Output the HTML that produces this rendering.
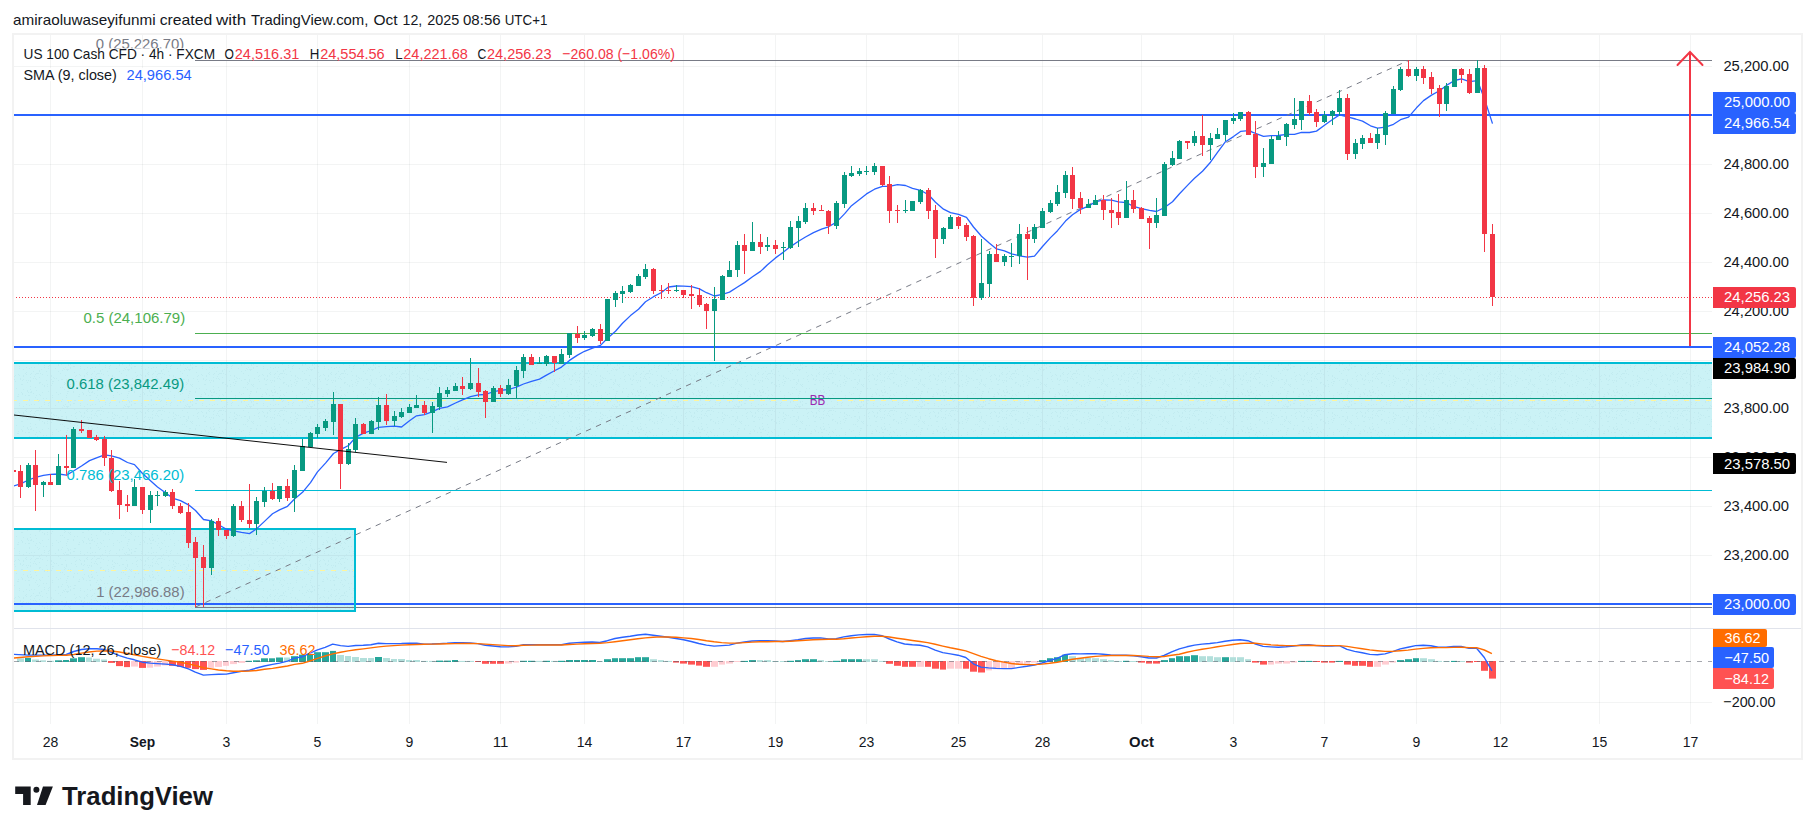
<!DOCTYPE html>
<html><head><meta charset="utf-8"><title>chart</title><style>html,body{margin:0;padding:0;background:#fff;}body{width:1815px;height:834px;overflow:hidden;font-family:"Liberation Sans",sans-serif;}</style></head><body>
<svg width="1815" height="834" viewBox="0 0 1815 834" style="display:block">
<rect width="1815" height="834" fill="#fff"/>
<defs><clipPath id="main"><rect x="14" y="35" width="1698" height="593"/></clipPath><clipPath id="macd"><rect x="14" y="629" width="1698" height="94"/></clipPath><pattern id="dots" width="61" height="37" patternUnits="userSpaceOnUse"><g fill="#c2ebf0"><rect x="20" y="9" width="1" height="1"/><rect x="25" y="3" width="1" height="1"/><rect x="4" y="34" width="1" height="1"/><rect x="6" y="23" width="1" height="1"/><rect x="37" y="3" width="1" height="1"/><rect x="58" y="32" width="1" height="1"/><rect x="13" y="2" width="1" height="1"/><rect x="5" y="27" width="1" height="1"/><rect x="26" y="4" width="1" height="1"/><rect x="15" y="5" width="1" height="1"/><rect x="35" y="27" width="1" height="1"/><rect x="3" y="36" width="1" height="1"/><rect x="7" y="14" width="1" height="1"/><rect x="40" y="3" width="1" height="1"/><rect x="36" y="25" width="1" height="1"/><rect x="3" y="14" width="1" height="1"/><rect x="2" y="35" width="1" height="1"/><rect x="54" y="8" width="1" height="1"/><rect x="18" y="26" width="1" height="1"/><rect x="9" y="34" width="1" height="1"/><rect x="7" y="36" width="1" height="1"/><rect x="19" y="35" width="1" height="1"/><rect x="52" y="11" width="1" height="1"/><rect x="6" y="36" width="1" height="1"/><rect x="40" y="12" width="1" height="1"/><rect x="23" y="6" width="1" height="1"/><rect x="35" y="4" width="1" height="1"/><rect x="36" y="3" width="1" height="1"/><rect x="39" y="13" width="1" height="1"/><rect x="31" y="34" width="1" height="1"/><rect x="27" y="20" width="1" height="1"/><rect x="29" y="29" width="1" height="1"/><rect x="23" y="19" width="1" height="1"/><rect x="15" y="11" width="1" height="1"/><rect x="44" y="15" width="1" height="1"/><rect x="5" y="36" width="1" height="1"/><rect x="19" y="33" width="1" height="1"/><rect x="31" y="21" width="1" height="1"/><rect x="46" y="28" width="1" height="1"/><rect x="18" y="4" width="1" height="1"/><rect x="7" y="32" width="1" height="1"/><rect x="26" y="10" width="1" height="1"/><rect x="48" y="21" width="1" height="1"/><rect x="9" y="31" width="1" height="1"/><rect x="26" y="2" width="1" height="1"/><rect x="42" y="4" width="1" height="1"/><rect x="48" y="35" width="1" height="1"/><rect x="36" y="20" width="1" height="1"/><rect x="21" y="22" width="1" height="1"/><rect x="38" y="31" width="1" height="1"/><rect x="37" y="29" width="1" height="1"/><rect x="4" y="5" width="1" height="1"/><rect x="60" y="17" width="1" height="1"/><rect x="30" y="4" width="1" height="1"/><rect x="3" y="19" width="1" height="1"/><rect x="41" y="36" width="1" height="1"/><rect x="43" y="28" width="1" height="1"/><rect x="18" y="24" width="1" height="1"/><rect x="56" y="22" width="1" height="1"/><rect x="1" y="29" width="1" height="1"/><rect x="22" y="10" width="1" height="1"/><rect x="39" y="7" width="1" height="1"/><rect x="31" y="3" width="1" height="1"/><rect x="13" y="18" width="1" height="1"/><rect x="8" y="15" width="1" height="1"/><rect x="25" y="25" width="1" height="1"/><rect x="58" y="31" width="1" height="1"/><rect x="5" y="10" width="1" height="1"/><rect x="28" y="25" width="1" height="1"/><rect x="35" y="17" width="1" height="1"/><rect x="56" y="8" width="1" height="1"/><rect x="52" y="27" width="1" height="1"/><rect x="55" y="35" width="1" height="1"/><rect x="17" y="26" width="1" height="1"/><rect x="22" y="24" width="1" height="1"/><rect x="14" y="9" width="1" height="1"/><rect x="5" y="11" width="1" height="1"/><rect x="9" y="14" width="1" height="1"/><rect x="42" y="14" width="1" height="1"/><rect x="0" y="31" width="1" height="1"/><rect x="53" y="11" width="1" height="1"/><rect x="16" y="18" width="1" height="1"/><rect x="0" y="9" width="1" height="1"/><rect x="26" y="34" width="1" height="1"/><rect x="23" y="36" width="1" height="1"/><rect x="20" y="8" width="1" height="1"/><rect x="44" y="32" width="1" height="1"/><rect x="60" y="3" width="1" height="1"/><rect x="29" y="35" width="1" height="1"/><rect x="25" y="25" width="1" height="1"/><rect x="25" y="25" width="1" height="1"/><rect x="6" y="30" width="1" height="1"/><rect x="40" y="25" width="1" height="1"/><rect x="3" y="12" width="1" height="1"/><rect x="4" y="13" width="1" height="1"/><rect x="28" y="10" width="1" height="1"/><rect x="7" y="21" width="1" height="1"/><rect x="38" y="3" width="1" height="1"/><rect x="6" y="0" width="1" height="1"/><rect x="36" y="9" width="1" height="1"/><rect x="34" y="6" width="1" height="1"/><rect x="60" y="23" width="1" height="1"/><rect x="39" y="1" width="1" height="1"/><rect x="4" y="13" width="1" height="1"/><rect x="39" y="24" width="1" height="1"/><rect x="9" y="16" width="1" height="1"/><rect x="22" y="23" width="1" height="1"/><rect x="30" y="7" width="1" height="1"/><rect x="7" y="31" width="1" height="1"/><rect x="29" y="30" width="1" height="1"/><rect x="30" y="19" width="1" height="1"/><rect x="5" y="9" width="1" height="1"/><rect x="6" y="21" width="1" height="1"/><rect x="47" y="16" width="1" height="1"/><rect x="30" y="10" width="1" height="1"/><rect x="33" y="1" width="1" height="1"/><rect x="13" y="33" width="1" height="1"/><rect x="23" y="9" width="1" height="1"/><rect x="44" y="34" width="1" height="1"/><rect x="58" y="1" width="1" height="1"/><rect x="48" y="33" width="1" height="1"/><rect x="19" y="5" width="1" height="1"/><rect x="44" y="16" width="1" height="1"/><rect x="33" y="23" width="1" height="1"/><rect x="58" y="10" width="1" height="1"/><rect x="22" y="14" width="1" height="1"/><rect x="34" y="34" width="1" height="1"/><rect x="49" y="32" width="1" height="1"/><rect x="21" y="14" width="1" height="1"/><rect x="39" y="12" width="1" height="1"/><rect x="51" y="15" width="1" height="1"/><rect x="52" y="25" width="1" height="1"/><rect x="47" y="14" width="1" height="1"/><rect x="12" y="33" width="1" height="1"/><rect x="31" y="22" width="1" height="1"/><rect x="46" y="1" width="1" height="1"/><rect x="1" y="17" width="1" height="1"/><rect x="30" y="16" width="1" height="1"/><rect x="12" y="22" width="1" height="1"/><rect x="28" y="22" width="1" height="1"/><rect x="23" y="5" width="1" height="1"/><rect x="14" y="6" width="1" height="1"/><rect x="14" y="30" width="1" height="1"/><rect x="12" y="21" width="1" height="1"/><rect x="13" y="30" width="1" height="1"/><rect x="39" y="0" width="1" height="1"/><rect x="30" y="22" width="1" height="1"/><rect x="51" y="5" width="1" height="1"/><rect x="53" y="7" width="1" height="1"/><rect x="58" y="24" width="1" height="1"/><rect x="50" y="12" width="1" height="1"/><rect x="30" y="11" width="1" height="1"/><rect x="27" y="21" width="1" height="1"/><rect x="5" y="25" width="1" height="1"/><rect x="29" y="25" width="1" height="1"/><rect x="47" y="5" width="1" height="1"/><rect x="46" y="10" width="1" height="1"/><rect x="10" y="8" width="1" height="1"/><rect x="1" y="9" width="1" height="1"/><rect x="37" y="29" width="1" height="1"/><rect x="51" y="9" width="1" height="1"/><rect x="39" y="30" width="1" height="1"/><rect x="42" y="22" width="1" height="1"/><rect x="9" y="35" width="1" height="1"/><rect x="35" y="8" width="1" height="1"/><rect x="1" y="0" width="1" height="1"/><rect x="51" y="6" width="1" height="1"/><rect x="33" y="8" width="1" height="1"/><rect x="27" y="12" width="1" height="1"/><rect x="52" y="13" width="1" height="1"/></g></pattern><clipPath id="fib0"><rect x="0" y="0" width="400" height="48.6"/></clipPath></defs>
<g fill="#1a2a20" fill-opacity="0.05" shape-rendering="crispEdges"><rect x="50" y="35" width="1" height="689"/><rect x="142" y="35" width="1" height="689"/><rect x="226" y="35" width="1" height="689"/><rect x="317" y="35" width="1" height="689"/><rect x="409" y="35" width="1" height="689"/><rect x="500" y="35" width="1" height="689"/><rect x="584" y="35" width="1" height="689"/><rect x="683" y="35" width="1" height="689"/><rect x="775" y="35" width="1" height="689"/><rect x="866" y="35" width="1" height="689"/><rect x="958" y="35" width="1" height="689"/><rect x="1042" y="35" width="1" height="689"/><rect x="1141" y="35" width="1" height="689"/><rect x="1233" y="35" width="1" height="689"/><rect x="1324" y="35" width="1" height="689"/><rect x="1416" y="35" width="1" height="689"/><rect x="1500" y="35" width="1" height="689"/><rect x="1599" y="35" width="1" height="689"/><rect x="1690" y="35" width="1" height="689"/><rect x="14" y="66" width="1698" height="1"/><rect x="14" y="115" width="1698" height="1"/><rect x="14" y="164" width="1698" height="1"/><rect x="14" y="213" width="1698" height="1"/><rect x="14" y="262" width="1698" height="1"/><rect x="14" y="311" width="1698" height="1"/><rect x="14" y="360" width="1698" height="1"/><rect x="14" y="408" width="1698" height="1"/><rect x="14" y="457" width="1698" height="1"/><rect x="14" y="506" width="1698" height="1"/><rect x="14" y="555" width="1698" height="1"/><rect x="14" y="702" width="1698" height="1"/></g>
<g shape-rendering="crispEdges">
<rect x="14" y="362" width="1698" height="77" fill="#cbf2f6"/>
<rect x="14" y="364" width="1698" height="73" fill="url(#dots)"/>
<rect x="14" y="362" width="1698" height="2" fill="#00bcd4"/>
<rect x="14" y="437" width="1698" height="2" fill="#00bcd4"/>
<rect x="14" y="528" width="342" height="84" fill="#cbf2f6"/>
<rect x="14" y="530" width="340" height="80" fill="url(#dots)"/>
<rect x="14" y="528" width="342" height="2" fill="#00bcd4"/>
<rect x="14" y="610" width="342" height="2" fill="#00bcd4"/>
<rect x="354" y="528" width="2" height="84" fill="#00bcd4"/>
</g>
<g fill="#c2e7ec" shape-rendering="crispEdges"><rect x="50" y="364" width="1" height="73"/><rect x="50" y="530" width="1" height="80"/><rect x="142" y="364" width="1" height="73"/><rect x="142" y="530" width="1" height="80"/><rect x="226" y="364" width="1" height="73"/><rect x="226" y="530" width="1" height="80"/><rect x="317" y="364" width="1" height="73"/><rect x="317" y="530" width="1" height="80"/><rect x="409" y="364" width="1" height="73"/><rect x="500" y="364" width="1" height="73"/><rect x="584" y="364" width="1" height="73"/><rect x="683" y="364" width="1" height="73"/><rect x="775" y="364" width="1" height="73"/><rect x="866" y="364" width="1" height="73"/><rect x="958" y="364" width="1" height="73"/><rect x="1042" y="364" width="1" height="73"/><rect x="1141" y="364" width="1" height="73"/><rect x="1233" y="364" width="1" height="73"/><rect x="1324" y="364" width="1" height="73"/><rect x="1416" y="364" width="1" height="73"/><rect x="1500" y="364" width="1" height="73"/><rect x="1599" y="364" width="1" height="73"/><rect x="1690" y="364" width="1" height="73"/><rect x="14" y="408" width="1698" height="1"/><rect x="14" y="555" width="340" height="1"/></g>
<g stroke="#fff59d" stroke-width="1" stroke-dasharray="5 6" shape-rendering="crispEdges" clip-path="url(#main)"><line x1="12" y1="400.5" x2="1712" y2="400.5"/><line x1="12" y1="570.5" x2="354" y2="570.5"/></g>
<rect x="798" y="400" width="39" height="1" fill="#cbf2f6" shape-rendering="crispEdges"/>
<text x="809.7" y="405" font-size="15.3" fill="#9c27b0" font-family="Liberation Sans, sans-serif" textLength="15.5" lengthAdjust="spacingAndGlyphs">BB</text>
<g shape-rendering="crispEdges">
<rect x="195" y="60" width="1517" height="1" fill="#787b86"/>
<rect x="195" y="333" width="1517" height="1" fill="#4caf50"/>
<rect x="195" y="398" width="1517" height="1" fill="#089981"/>
<rect x="195" y="490" width="1517" height="1" fill="#00bcd4"/>
<rect x="195" y="607" width="1517" height="1" fill="#787b86"/>
<rect x="14" y="114" width="1698" height="2" fill="#2962ff"/>
<rect x="14" y="346" width="1698" height="2" fill="#2962ff"/>
<rect x="14" y="603" width="1698" height="2" fill="#2962ff"/>
<rect x="354" y="528" width="2" height="84" fill="#00bcd4"/>
</g>
<line x1="13" y1="297.5" x2="1712" y2="297.5" stroke="#f23645" stroke-width="1" stroke-dasharray="1 2" shape-rendering="crispEdges" clip-path="url(#main)"/>
<line x1="195.5" y1="607" x2="1408.5" y2="60.5" stroke="#787b86" stroke-width="1" stroke-dasharray="5.49 5.49"/>
<path d="M13.3,486.1 L20.5,483.9 L28.5,480.0 L35.5,477.3 L43.4,475.3 L50.5,474.3 L58.5,474.0 L66.5,475.1 L73.5,471.0 L81.5,466.0 L89.5,460.6 L96.5,457.8 L104.5,454.9 L111.5,455.8 L119.5,458.1 L127.5,462.5 L134.5,464.6 L142.5,473.5 L150.5,480.7 L157.5,487.0 L165.5,492.8 L172.5,498.1 L180.5,500.6 L188.5,504.8 L195.5,510.5 L203.5,519.5 L211.5,520.8 L218.5,524.7 L226.5,529.2 L233.5,530.8 L241.5,532.3 L249.5,533.6 L256.5,528.9 L264.5,521.4 L272.5,513.8 L279.5,509.9 L287.5,506.3 L294.5,499.0 L302.5,492.3 L310.5,482.6 L317.5,471.9 L325.5,463.1 L333.5,453.5 L340.5,449.6 L348.5,445.5 L355.5,437.3 L363.5,433.2 L371.5,430.5 L378.5,427.3 L386.5,426.6 L394.5,426.1 L401.5,427.0 L409.5,420.7 L416.5,415.8 L424.5,414.6 L432.5,411.6 L439.5,408.4 L447.5,406.8 L455.5,403.0 L462.5,399.9 L470.5,396.6 L478.5,394.9 L485.5,394.5 L493.5,391.7 L500.5,390.3 L508.5,389.5 L516.5,387.2 L523.5,384.0 L531.5,381.3 L539.5,379.1 L546.5,375.1 L554.5,370.8 L561.5,367.1 L569.5,360.4 L577.5,355.1 L584.5,351.3 L592.5,348.1 L600.5,345.4 L607.5,338.3 L615.5,331.3 L622.5,323.3 L630.5,315.6 L638.5,309.3 L645.5,301.7 L653.5,296.7 L661.5,292.5 L668.5,287.0 L676.5,286.0 L683.5,286.2 L691.5,286.7 L699.5,288.9 L706.5,292.7 L714.5,296.0 L722.5,294.4 L729.5,292.1 L737.5,287.0 L744.5,282.6 L752.5,276.8 L760.5,271.4 L767.5,264.8 L775.5,257.9 L783.5,252.1 L790.5,246.6 L798.5,241.2 L805.5,237.0 L813.5,232.6 L821.5,229.1 L828.5,226.8 L836.5,222.1 L844.5,213.9 L851.5,205.7 L859.5,199.5 L866.5,193.9 L874.5,189.2 L882.5,186.4 L889.5,186.4 L897.5,184.7 L905.5,185.5 L912.5,188.4 L920.5,190.3 L928.5,194.7 L935.5,202.3 L943.5,209.2 L950.5,212.7 L958.5,214.4 L966.5,217.3 L973.5,227.0 L981.5,236.2 L989.5,243.3 L996.5,248.9 L1004.5,250.8 L1011.5,253.9 L1019.5,255.8 L1027.5,257.2 L1034.5,256.1 L1042.5,246.5 L1050.5,237.6 L1057.5,230.7 L1065.5,221.1 L1072.5,214.7 L1080.5,209.4 L1088.5,206.1 L1095.5,201.8 L1103.5,199.9 L1111.5,200.1 L1118.5,201.8 L1126.5,202.7 L1133.5,206.4 L1141.5,208.6 L1149.5,210.3 L1156.5,211.5 L1164.5,207.5 L1172.5,201.7 L1179.5,193.7 L1187.5,185.4 L1194.5,178.3 L1202.5,171.2 L1210.5,162.2 L1217.5,152.3 L1225.5,141.7 L1233.5,136.6 L1240.5,131.4 L1248.5,130.7 L1255.5,133.4 L1263.5,136.4 L1271.5,135.7 L1278.5,135.5 L1286.5,134.4 L1294.5,134.3 L1301.5,132.4 L1309.5,132.5 L1316.5,131.1 L1324.5,125.3 L1332.5,119.5 L1339.5,114.9 L1347.5,116.9 L1355.5,119.0 L1362.5,121.1 L1370.5,125.8 L1377.5,128.1 L1385.5,127.2 L1393.5,124.3 L1400.5,119.7 L1408.5,117.2 L1416.5,107.8 L1423.5,100.6 L1431.5,95.1 L1439.5,90.8 L1446.5,85.4 L1454.5,80.5 L1461.5,78.9 L1469.5,81.6 L1477.5,80.7 L1484.5,99.0 L1492.5,123.6" fill="none" stroke="#2962ff" stroke-width="1.3" stroke-linejoin="round" clip-path="url(#main)"/>
<g shape-rendering="crispEdges" clip-path="url(#main)"><rect x="14" y="470" width="2" height="2" fill="#f23645"/><g fill="#f23645"><rect x="20" y="465" width="1" height="33"/><rect x="18" y="471" width="5" height="16"/></g><g fill="#089981"><rect x="28" y="463" width="1" height="25"/><rect x="26" y="465" width="5" height="22"/></g><g fill="#f23645"><rect x="35" y="450" width="1" height="61"/><rect x="33" y="465" width="5" height="20"/></g><g fill="#089981"><rect x="43" y="481" width="1" height="16"/><rect x="41" y="482" width="5" height="3"/></g><g fill="#f23645"><rect x="50" y="474" width="1" height="11"/><rect x="48" y="482" width="5" height="3"/></g><g fill="#089981"><rect x="58" y="454" width="1" height="31"/><rect x="56" y="466" width="5" height="19"/></g><g fill="#f23645"><rect x="66" y="435" width="1" height="41"/><rect x="64" y="466" width="5" height="2"/></g><g fill="#089981"><rect x="73" y="427" width="1" height="41"/><rect x="71" y="429" width="5" height="39"/></g><g fill="#f23645"><rect x="81" y="420" width="1" height="13"/><rect x="79" y="429" width="5" height="2"/></g><g fill="#f23645"><rect x="89" y="430" width="1" height="8"/><rect x="87" y="430" width="5" height="8"/></g><g fill="#f23645"><rect x="96" y="435" width="1" height="6"/><rect x="94" y="437" width="5" height="3"/></g><g fill="#f23645"><rect x="104" y="436" width="1" height="30"/><rect x="102" y="439" width="5" height="19"/></g><g fill="#f23645"><rect x="111" y="450" width="1" height="42"/><rect x="109" y="458" width="5" height="33"/></g><g fill="#f23645"><rect x="119" y="481" width="1" height="38"/><rect x="117" y="490" width="5" height="15"/></g><g fill="#f23645"><rect x="127" y="495" width="1" height="17"/><rect x="125" y="504" width="5" height="2"/></g><g fill="#089981"><rect x="134" y="479" width="1" height="27"/><rect x="132" y="487" width="5" height="19"/></g><g fill="#f23645"><rect x="142" y="487" width="1" height="27"/><rect x="140" y="487" width="5" height="23"/></g><g fill="#089981"><rect x="150" y="491" width="1" height="32"/><rect x="148" y="495" width="5" height="15"/></g><g fill="#089981"><rect x="157" y="491" width="1" height="15"/><rect x="155" y="495" width="5" height="1"/></g><g fill="#089981"><rect x="165" y="490" width="1" height="7"/><rect x="163" y="492" width="5" height="4"/></g><g fill="#f23645"><rect x="172" y="489" width="1" height="20"/><rect x="170" y="492" width="5" height="14"/></g><g fill="#f23645"><rect x="180" y="503" width="1" height="11"/><rect x="178" y="506" width="5" height="7"/></g><g fill="#f23645"><rect x="188" y="503" width="1" height="45"/><rect x="186" y="512" width="5" height="31"/></g><g fill="#f23645"><rect x="195" y="537" width="1" height="70"/><rect x="193" y="542" width="5" height="16"/></g><g fill="#f23645"><rect x="203" y="545" width="1" height="62"/><rect x="201" y="557" width="5" height="11"/></g><g fill="#089981"><rect x="211" y="519" width="1" height="56"/><rect x="209" y="521" width="5" height="47"/></g><g fill="#f23645"><rect x="218" y="518" width="1" height="18"/><rect x="216" y="521" width="5" height="9"/></g><g fill="#f23645"><rect x="226" y="530" width="1" height="9"/><rect x="224" y="530" width="5" height="6"/></g><g fill="#089981"><rect x="233" y="504" width="1" height="33"/><rect x="231" y="506" width="5" height="30"/></g><g fill="#f23645"><rect x="241" y="501" width="1" height="21"/><rect x="239" y="506" width="5" height="14"/></g><g fill="#f23645"><rect x="249" y="484" width="1" height="44"/><rect x="247" y="520" width="5" height="4"/></g><g fill="#089981"><rect x="256" y="497" width="1" height="38"/><rect x="254" y="501" width="5" height="23"/></g><g fill="#089981"><rect x="264" y="487" width="1" height="20"/><rect x="262" y="491" width="5" height="11"/></g><g fill="#f23645"><rect x="272" y="483" width="1" height="17"/><rect x="270" y="491" width="5" height="8"/></g><g fill="#089981"><rect x="279" y="486" width="1" height="16"/><rect x="277" y="486" width="5" height="13"/></g><g fill="#f23645"><rect x="287" y="479" width="1" height="22"/><rect x="285" y="486" width="5" height="12"/></g><g fill="#089981"><rect x="294" y="465" width="1" height="47"/><rect x="292" y="470" width="5" height="28"/></g><g fill="#089981"><rect x="302" y="439" width="1" height="32"/><rect x="300" y="446" width="5" height="25"/></g><g fill="#089981"><rect x="310" y="432" width="1" height="15"/><rect x="308" y="433" width="5" height="14"/></g><g fill="#089981"><rect x="317" y="424" width="1" height="14"/><rect x="315" y="427" width="5" height="7"/></g><g fill="#089981"><rect x="325" y="419" width="1" height="12"/><rect x="323" y="421" width="5" height="7"/></g><g fill="#089981"><rect x="333" y="392" width="1" height="43"/><rect x="331" y="404" width="5" height="18"/></g><g fill="#f23645"><rect x="340" y="404" width="1" height="85"/><rect x="338" y="404" width="5" height="60"/></g><g fill="#089981"><rect x="348" y="443" width="1" height="22"/><rect x="346" y="449" width="5" height="15"/></g><g fill="#089981"><rect x="355" y="418" width="1" height="34"/><rect x="353" y="424" width="5" height="26"/></g><g fill="#f23645"><rect x="363" y="423" width="1" height="11"/><rect x="361" y="424" width="5" height="10"/></g><g fill="#089981"><rect x="371" y="420" width="1" height="14"/><rect x="369" y="421" width="5" height="13"/></g><g fill="#089981"><rect x="378" y="397" width="1" height="33"/><rect x="376" y="405" width="5" height="17"/></g><g fill="#f23645"><rect x="386" y="394" width="1" height="31"/><rect x="384" y="405" width="5" height="16"/></g><g fill="#089981"><rect x="394" y="411" width="1" height="15"/><rect x="392" y="416" width="5" height="5"/></g><g fill="#089981"><rect x="401" y="408" width="1" height="10"/><rect x="399" y="412" width="5" height="5"/></g><g fill="#089981"><rect x="409" y="404" width="1" height="9"/><rect x="407" y="407" width="5" height="6"/></g><g fill="#089981"><rect x="416" y="395" width="1" height="13"/><rect x="414" y="405" width="5" height="3"/></g><g fill="#f23645"><rect x="424" y="401" width="1" height="14"/><rect x="422" y="405" width="5" height="8"/></g><g fill="#089981"><rect x="432" y="402" width="1" height="31"/><rect x="430" y="406" width="5" height="7"/></g><g fill="#089981"><rect x="439" y="387" width="1" height="23"/><rect x="437" y="393" width="5" height="14"/></g><g fill="#089981"><rect x="447" y="387" width="1" height="10"/><rect x="445" y="390" width="5" height="4"/></g><g fill="#089981"><rect x="455" y="383" width="1" height="8"/><rect x="453" y="386" width="5" height="5"/></g><g fill="#f23645"><rect x="462" y="377" width="1" height="18"/><rect x="460" y="386" width="5" height="3"/></g><g fill="#089981"><rect x="470" y="358" width="1" height="32"/><rect x="468" y="383" width="5" height="6"/></g><g fill="#f23645"><rect x="478" y="368" width="1" height="29"/><rect x="476" y="383" width="5" height="9"/></g><g fill="#f23645"><rect x="485" y="390" width="1" height="28"/><rect x="483" y="391" width="5" height="11"/></g><g fill="#089981"><rect x="493" y="386" width="1" height="16"/><rect x="491" y="388" width="5" height="14"/></g><g fill="#f23645"><rect x="500" y="385" width="1" height="12"/><rect x="498" y="388" width="5" height="6"/></g><g fill="#089981"><rect x="508" y="379" width="1" height="16"/><rect x="506" y="385" width="5" height="9"/></g><g fill="#089981"><rect x="516" y="366" width="1" height="32"/><rect x="514" y="370" width="5" height="16"/></g><g fill="#089981"><rect x="523" y="354" width="1" height="24"/><rect x="521" y="357" width="5" height="14"/></g><g fill="#f23645"><rect x="531" y="354" width="1" height="11"/><rect x="529" y="357" width="5" height="8"/></g><g fill="#089981"><rect x="539" y="357" width="1" height="7"/><rect x="537" y="363" width="5" height="1"/></g><g fill="#089981"><rect x="546" y="355" width="1" height="11"/><rect x="544" y="356" width="5" height="8"/></g><g fill="#f23645"><rect x="554" y="356" width="1" height="16"/><rect x="552" y="356" width="5" height="7"/></g><g fill="#089981"><rect x="561" y="349" width="1" height="15"/><rect x="559" y="354" width="5" height="10"/></g><g fill="#089981"><rect x="569" y="333" width="1" height="25"/><rect x="567" y="333" width="5" height="22"/></g><g fill="#f23645"><rect x="577" y="326" width="1" height="17"/><rect x="575" y="334" width="5" height="4"/></g><g fill="#089981"><rect x="584" y="331" width="1" height="9"/><rect x="582" y="335" width="5" height="3"/></g><g fill="#089981"><rect x="592" y="328" width="1" height="9"/><rect x="590" y="329" width="5" height="7"/></g><g fill="#f23645"><rect x="600" y="324" width="1" height="20"/><rect x="598" y="329" width="5" height="12"/></g><g fill="#089981"><rect x="607" y="299" width="1" height="42"/><rect x="605" y="299" width="5" height="42"/></g><g fill="#089981"><rect x="615" y="291" width="1" height="16"/><rect x="613" y="293" width="5" height="7"/></g><g fill="#089981"><rect x="622" y="286" width="1" height="17"/><rect x="620" y="291" width="5" height="3"/></g><g fill="#089981"><rect x="630" y="284" width="1" height="9"/><rect x="628" y="285" width="5" height="7"/></g><g fill="#089981"><rect x="638" y="274" width="1" height="12"/><rect x="636" y="276" width="5" height="10"/></g><g fill="#089981"><rect x="645" y="264" width="1" height="15"/><rect x="643" y="269" width="5" height="8"/></g><g fill="#f23645"><rect x="653" y="268" width="1" height="26"/><rect x="651" y="269" width="5" height="22"/></g><g fill="#f23645"><rect x="661" y="285" width="1" height="14"/><rect x="659" y="290" width="5" height="1"/></g><g fill="#f23645"><rect x="668" y="283" width="1" height="11"/><rect x="666" y="290" width="5" height="1"/></g><g fill="#089981"><rect x="676" y="285" width="1" height="7"/><rect x="674" y="290" width="5" height="1"/></g><g fill="#f23645"><rect x="683" y="290" width="1" height="8"/><rect x="681" y="290" width="5" height="5"/></g><g fill="#f23645"><rect x="691" y="285" width="1" height="24"/><rect x="689" y="294" width="5" height="2"/></g><g fill="#f23645"><rect x="699" y="288" width="1" height="19"/><rect x="697" y="295" width="5" height="10"/></g><g fill="#f23645"><rect x="706" y="303" width="1" height="26"/><rect x="704" y="304" width="5" height="7"/></g><g fill="#089981"><rect x="714" y="287" width="1" height="74"/><rect x="712" y="299" width="5" height="12"/></g><g fill="#089981"><rect x="722" y="275" width="1" height="25"/><rect x="720" y="276" width="5" height="24"/></g><g fill="#089981"><rect x="729" y="261" width="1" height="16"/><rect x="727" y="270" width="5" height="7"/></g><g fill="#089981"><rect x="737" y="241" width="1" height="36"/><rect x="735" y="245" width="5" height="25"/></g><g fill="#f23645"><rect x="744" y="234" width="1" height="40"/><rect x="742" y="245" width="5" height="6"/></g><g fill="#089981"><rect x="752" y="222" width="1" height="29"/><rect x="750" y="242" width="5" height="9"/></g><g fill="#f23645"><rect x="760" y="234" width="1" height="20"/><rect x="758" y="242" width="5" height="5"/></g><g fill="#089981"><rect x="767" y="237" width="1" height="14"/><rect x="765" y="245" width="5" height="2"/></g><g fill="#f23645"><rect x="775" y="240" width="1" height="14"/><rect x="773" y="245" width="5" height="4"/></g><g fill="#089981"><rect x="783" y="242" width="1" height="18"/><rect x="781" y="247" width="5" height="1"/></g><g fill="#089981"><rect x="790" y="221" width="1" height="28"/><rect x="788" y="227" width="5" height="21"/></g><g fill="#089981"><rect x="798" y="216" width="1" height="31"/><rect x="796" y="221" width="5" height="7"/></g><g fill="#089981"><rect x="805" y="203" width="1" height="21"/><rect x="803" y="208" width="5" height="14"/></g><g fill="#f23645"><rect x="813" y="203" width="1" height="12"/><rect x="811" y="208" width="5" height="3"/></g><g fill="#f23645"><rect x="821" y="205" width="1" height="6"/><rect x="819" y="210" width="5" height="1"/></g><g fill="#f23645"><rect x="828" y="210" width="1" height="24"/><rect x="826" y="211" width="5" height="15"/></g><g fill="#089981"><rect x="836" y="201" width="1" height="28"/><rect x="834" y="203" width="5" height="23"/></g><g fill="#089981"><rect x="844" y="172" width="1" height="36"/><rect x="842" y="175" width="5" height="29"/></g><g fill="#089981"><rect x="851" y="166" width="1" height="11"/><rect x="849" y="173" width="5" height="3"/></g><g fill="#089981"><rect x="859" y="168" width="1" height="8"/><rect x="857" y="171" width="5" height="3"/></g><g fill="#089981"><rect x="866" y="166" width="1" height="9"/><rect x="864" y="171" width="5" height="1"/></g><g fill="#089981"><rect x="874" y="163" width="1" height="12"/><rect x="872" y="166" width="5" height="6"/></g><g fill="#f23645"><rect x="882" y="166" width="1" height="20"/><rect x="880" y="166" width="5" height="19"/></g><g fill="#f23645"><rect x="889" y="176" width="1" height="47"/><rect x="887" y="184" width="5" height="27"/></g><g fill="#f23645"><rect x="897" y="205" width="1" height="18"/><rect x="895" y="210" width="5" height="1"/></g><g fill="#089981"><rect x="905" y="200" width="1" height="13"/><rect x="903" y="210" width="5" height="1"/></g><g fill="#089981"><rect x="912" y="201" width="1" height="10"/><rect x="910" y="201" width="5" height="10"/></g><g fill="#089981"><rect x="920" y="189" width="1" height="15"/><rect x="918" y="190" width="5" height="12"/></g><g fill="#f23645"><rect x="928" y="188" width="1" height="31"/><rect x="926" y="190" width="5" height="21"/></g><g fill="#f23645"><rect x="935" y="205" width="1" height="53"/><rect x="933" y="210" width="5" height="29"/></g><g fill="#089981"><rect x="943" y="227" width="1" height="17"/><rect x="941" y="228" width="5" height="11"/></g><g fill="#089981"><rect x="950" y="215" width="1" height="14"/><rect x="948" y="217" width="5" height="12"/></g><g fill="#f23645"><rect x="958" y="216" width="1" height="13"/><rect x="956" y="217" width="5" height="9"/></g><g fill="#f23645"><rect x="966" y="223" width="1" height="18"/><rect x="964" y="225" width="5" height="12"/></g><g fill="#f23645"><rect x="973" y="235" width="1" height="71"/><rect x="971" y="236" width="5" height="62"/></g><g fill="#089981"><rect x="981" y="239" width="1" height="61"/><rect x="979" y="283" width="5" height="15"/></g><g fill="#089981"><rect x="989" y="251" width="1" height="46"/><rect x="987" y="254" width="5" height="30"/></g><g fill="#f23645"><rect x="996" y="244" width="1" height="18"/><rect x="994" y="254" width="5" height="8"/></g><g fill="#089981"><rect x="1004" y="254" width="1" height="12"/><rect x="1002" y="256" width="5" height="6"/></g><g fill="#089981"><rect x="1011" y="243" width="1" height="24"/><rect x="1009" y="256" width="5" height="1"/></g><g fill="#089981"><rect x="1019" y="224" width="1" height="40"/><rect x="1017" y="234" width="5" height="22"/></g><g fill="#f23645"><rect x="1027" y="227" width="1" height="53"/><rect x="1025" y="234" width="5" height="5"/></g><g fill="#089981"><rect x="1034" y="224" width="1" height="19"/><rect x="1032" y="227" width="5" height="12"/></g><g fill="#089981"><rect x="1042" y="208" width="1" height="20"/><rect x="1040" y="211" width="5" height="17"/></g><g fill="#089981"><rect x="1050" y="200" width="1" height="13"/><rect x="1048" y="203" width="5" height="9"/></g><g fill="#089981"><rect x="1057" y="185" width="1" height="21"/><rect x="1055" y="192" width="5" height="12"/></g><g fill="#089981"><rect x="1065" y="171" width="1" height="27"/><rect x="1063" y="175" width="5" height="18"/></g><g fill="#f23645"><rect x="1072" y="167" width="1" height="42"/><rect x="1070" y="175" width="5" height="24"/></g><g fill="#f23645"><rect x="1080" y="192" width="1" height="22"/><rect x="1078" y="198" width="5" height="10"/></g><g fill="#089981"><rect x="1088" y="199" width="1" height="9"/><rect x="1086" y="204" width="5" height="4"/></g><g fill="#089981"><rect x="1095" y="195" width="1" height="10"/><rect x="1093" y="200" width="5" height="5"/></g><g fill="#f23645"><rect x="1103" y="195" width="1" height="25"/><rect x="1101" y="200" width="5" height="10"/></g><g fill="#f23645"><rect x="1111" y="198" width="1" height="30"/><rect x="1109" y="210" width="5" height="3"/></g><g fill="#f23645"><rect x="1118" y="194" width="1" height="31"/><rect x="1116" y="212" width="5" height="6"/></g><g fill="#089981"><rect x="1126" y="181" width="1" height="37"/><rect x="1124" y="200" width="5" height="18"/></g><g fill="#f23645"><rect x="1133" y="190" width="1" height="23"/><rect x="1131" y="200" width="5" height="9"/></g><g fill="#f23645"><rect x="1141" y="207" width="1" height="12"/><rect x="1139" y="208" width="5" height="11"/></g><g fill="#f23645"><rect x="1149" y="216" width="1" height="33"/><rect x="1147" y="218" width="5" height="5"/></g><g fill="#089981"><rect x="1156" y="198" width="1" height="30"/><rect x="1154" y="215" width="5" height="8"/></g><g fill="#089981"><rect x="1164" y="162" width="1" height="54"/><rect x="1162" y="164" width="5" height="52"/></g><g fill="#089981"><rect x="1172" y="151" width="1" height="15"/><rect x="1170" y="158" width="5" height="7"/></g><g fill="#089981"><rect x="1179" y="140" width="1" height="19"/><rect x="1177" y="141" width="5" height="18"/></g><g fill="#f23645"><rect x="1187" y="141" width="1" height="8"/><rect x="1185" y="141" width="5" height="2"/></g><g fill="#089981"><rect x="1194" y="131" width="1" height="15"/><rect x="1192" y="136" width="5" height="7"/></g><g fill="#f23645"><rect x="1202" y="115" width="1" height="41"/><rect x="1200" y="136" width="5" height="9"/></g><g fill="#089981"><rect x="1210" y="133" width="1" height="27"/><rect x="1208" y="138" width="5" height="7"/></g><g fill="#089981"><rect x="1217" y="128" width="1" height="11"/><rect x="1215" y="134" width="5" height="5"/></g><g fill="#089981"><rect x="1225" y="120" width="1" height="21"/><rect x="1223" y="120" width="5" height="15"/></g><g fill="#089981"><rect x="1233" y="113" width="1" height="11"/><rect x="1231" y="118" width="5" height="3"/></g><g fill="#089981"><rect x="1240" y="112" width="1" height="9"/><rect x="1238" y="112" width="5" height="7"/></g><g fill="#f23645"><rect x="1248" y="111" width="1" height="24"/><rect x="1246" y="112" width="5" height="23"/></g><g fill="#f23645"><rect x="1255" y="121" width="1" height="57"/><rect x="1253" y="134" width="5" height="33"/></g><g fill="#089981"><rect x="1263" y="148" width="1" height="29"/><rect x="1261" y="163" width="5" height="4"/></g><g fill="#089981"><rect x="1271" y="136" width="1" height="28"/><rect x="1269" y="139" width="5" height="25"/></g><g fill="#089981"><rect x="1278" y="131" width="1" height="9"/><rect x="1276" y="136" width="5" height="4"/></g><g fill="#089981"><rect x="1286" y="123" width="1" height="23"/><rect x="1284" y="124" width="5" height="13"/></g><g fill="#089981"><rect x="1294" y="98" width="1" height="31"/><rect x="1292" y="119" width="5" height="6"/></g><g fill="#089981"><rect x="1301" y="101" width="1" height="29"/><rect x="1299" y="101" width="5" height="19"/></g><g fill="#f23645"><rect x="1309" y="95" width="1" height="20"/><rect x="1307" y="101" width="5" height="12"/></g><g fill="#f23645"><rect x="1316" y="109" width="1" height="18"/><rect x="1314" y="112" width="5" height="10"/></g><g fill="#089981"><rect x="1324" y="111" width="1" height="12"/><rect x="1322" y="115" width="5" height="7"/></g><g fill="#089981"><rect x="1332" y="110" width="1" height="15"/><rect x="1330" y="111" width="5" height="5"/></g><g fill="#089981"><rect x="1339" y="90" width="1" height="26"/><rect x="1337" y="98" width="5" height="14"/></g><g fill="#f23645"><rect x="1347" y="94" width="1" height="66"/><rect x="1345" y="98" width="5" height="56"/></g><g fill="#089981"><rect x="1355" y="139" width="1" height="20"/><rect x="1353" y="143" width="5" height="11"/></g><g fill="#089981"><rect x="1362" y="135" width="1" height="14"/><rect x="1360" y="138" width="5" height="6"/></g><g fill="#f23645"><rect x="1370" y="133" width="1" height="10"/><rect x="1368" y="138" width="5" height="5"/></g><g fill="#089981"><rect x="1377" y="128" width="1" height="21"/><rect x="1375" y="134" width="5" height="9"/></g><g fill="#089981"><rect x="1385" y="111" width="1" height="34"/><rect x="1383" y="113" width="5" height="22"/></g><g fill="#089981"><rect x="1393" y="86" width="1" height="28"/><rect x="1391" y="89" width="5" height="25"/></g><g fill="#089981"><rect x="1400" y="67" width="1" height="24"/><rect x="1398" y="69" width="5" height="21"/></g><g fill="#f23645"><rect x="1408" y="60" width="1" height="17"/><rect x="1406" y="69" width="5" height="7"/></g><g fill="#089981"><rect x="1416" y="67" width="1" height="14"/><rect x="1414" y="69" width="5" height="7"/></g><g fill="#f23645"><rect x="1423" y="66" width="1" height="18"/><rect x="1421" y="69" width="5" height="9"/></g><g fill="#f23645"><rect x="1431" y="72" width="1" height="22"/><rect x="1429" y="77" width="5" height="12"/></g><g fill="#f23645"><rect x="1439" y="85" width="1" height="32"/><rect x="1437" y="88" width="5" height="16"/></g><g fill="#089981"><rect x="1446" y="83" width="1" height="28"/><rect x="1444" y="86" width="5" height="18"/></g><g fill="#089981"><rect x="1454" y="69" width="1" height="18"/><rect x="1452" y="69" width="5" height="18"/></g><g fill="#f23645"><rect x="1461" y="68" width="1" height="15"/><rect x="1459" y="69" width="5" height="6"/></g><g fill="#f23645"><rect x="1469" y="69" width="1" height="25"/><rect x="1467" y="74" width="5" height="19"/></g><g fill="#089981"><rect x="1477" y="60" width="1" height="33"/><rect x="1475" y="68" width="5" height="25"/></g><g fill="#f23645"><rect x="1484" y="65" width="1" height="187"/><rect x="1482" y="68" width="5" height="166"/></g><g fill="#f23645"><rect x="1492" y="224" width="1" height="82"/><rect x="1490" y="234" width="5" height="63"/></g></g>
<line x1="14" y1="415" x2="447" y2="462.4" stroke="#000" stroke-width="0.95"/>
<g stroke="#f23645" fill="none" stroke-width="2" stroke-linecap="round"><line x1="1690" y1="52.5" x2="1690" y2="346" stroke-linecap="butt"/><polyline points="1677.5,65 1690,52 1702.5,65" stroke-linejoin="miter"/></g>
<rect x="14" y="628" width="1787" height="1" fill="#e0e3eb" shape-rendering="crispEdges"/>
<g clip-path="url(#macd)"><rect x="17" y="658.3" width="7" height="3.7" fill="#b2dfdb"/><rect x="25" y="658.0" width="6" height="4.0" fill="#26a69a"/><rect x="32" y="659.5" width="7" height="2.5" fill="#b2dfdb"/><rect x="40" y="660.3" width="6" height="1.7" fill="#b2dfdb"/><rect x="47" y="660.8" width="7" height="1.2" fill="#b2dfdb"/><rect x="55" y="660.3" width="7" height="1.7" fill="#26a69a"/><rect x="63" y="660.0" width="6" height="2.0" fill="#26a69a"/><rect x="70" y="658.3" width="7" height="3.7" fill="#26a69a"/><rect x="78" y="657.2" width="7" height="4.8" fill="#26a69a"/><rect x="86" y="657.5" width="6" height="4.5" fill="#b2dfdb"/><rect x="93" y="658.7" width="7" height="3.3" fill="#b2dfdb"/><rect x="101" y="659.5" width="6" height="2.5" fill="#b2dfdb"/><rect x="108" y="661.0" width="7" height="1.9" fill="#ff5252"/><rect x="116" y="661.0" width="7" height="5.1" fill="#ff5252"/><rect x="124" y="661.0" width="6" height="6.1" fill="#ff5252"/><rect x="131" y="661.0" width="7" height="5.6" fill="#ffcdd2"/><rect x="139" y="661.0" width="7" height="6.9" fill="#ff5252"/><rect x="147" y="661.0" width="6" height="6.7" fill="#ffcdd2"/><rect x="154" y="661.0" width="7" height="5.6" fill="#ffcdd2"/><rect x="162" y="661.0" width="6" height="4.4" fill="#ffcdd2"/><rect x="169" y="661.0" width="7" height="4.8" fill="#ff5252"/><rect x="177" y="661.0" width="7" height="5.9" fill="#ff5252"/><rect x="185" y="661.0" width="6" height="6.9" fill="#ff5252"/><rect x="192" y="661.0" width="7" height="8.1" fill="#ff5252"/><rect x="200" y="661.0" width="7" height="8.9" fill="#ff5252"/><rect x="208" y="661.0" width="6" height="6.9" fill="#ffcdd2"/><rect x="215" y="661.0" width="7" height="5.9" fill="#ffcdd2"/><rect x="223" y="661.0" width="6" height="4.8" fill="#ffcdd2"/><rect x="230" y="661.0" width="7" height="3.1" fill="#ffcdd2"/><rect x="238" y="661.0" width="7" height="1.9" fill="#ffcdd2"/><rect x="246" y="660.8" width="6" height="1.2" fill="#26a69a"/><rect x="253" y="660.3" width="7" height="1.7" fill="#26a69a"/><rect x="261" y="658.3" width="7" height="3.7" fill="#26a69a"/><rect x="269" y="658.3" width="6" height="3.7" fill="#26a69a"/><rect x="276" y="657.5" width="7" height="4.5" fill="#26a69a"/><rect x="284" y="657.5" width="6" height="4.5" fill="#b2dfdb"/><rect x="291" y="656.2" width="7" height="5.8" fill="#26a69a"/><rect x="299" y="654.7" width="7" height="7.3" fill="#26a69a"/><rect x="307" y="653.9" width="6" height="8.1" fill="#26a69a"/><rect x="314" y="652.2" width="7" height="9.8" fill="#26a69a"/><rect x="322" y="652.2" width="7" height="9.8" fill="#26a69a"/><rect x="330" y="650.9" width="6" height="11.1" fill="#26a69a"/><rect x="337" y="655.0" width="7" height="7.0" fill="#b2dfdb"/><rect x="345" y="656.0" width="6" height="6.0" fill="#b2dfdb"/><rect x="352" y="657.0" width="7" height="5.0" fill="#b2dfdb"/><rect x="360" y="658.0" width="7" height="4.0" fill="#b2dfdb"/><rect x="368" y="658.0" width="6" height="4.0" fill="#b2dfdb"/><rect x="375" y="657.0" width="7" height="5.0" fill="#26a69a"/><rect x="383" y="658.0" width="7" height="4.0" fill="#b2dfdb"/><rect x="391" y="659.0" width="6" height="3.0" fill="#b2dfdb"/><rect x="398" y="659.0" width="7" height="3.0" fill="#b2dfdb"/><rect x="406" y="660.0" width="6" height="2.0" fill="#b2dfdb"/><rect x="413" y="660.0" width="7" height="2.0" fill="#b2dfdb"/><rect x="421" y="660.9" width="7" height="1.1" fill="#b2dfdb"/><rect x="429" y="660.9" width="6" height="1.1" fill="#b2dfdb"/><rect x="436" y="660.6" width="7" height="1.4" fill="#26a69a"/><rect x="444" y="660.6" width="7" height="1.4" fill="#26a69a"/><rect x="452" y="660.0" width="6" height="2.0" fill="#26a69a"/><rect x="459" y="660.9" width="7" height="1.1" fill="#b2dfdb"/><rect x="467" y="660.9" width="7" height="1.1" fill="#b2dfdb"/><rect x="475" y="661.0" width="6" height="1.0" fill="#ff5252"/><rect x="482" y="661.0" width="7" height="2.8" fill="#ff5252"/><rect x="490" y="661.0" width="6" height="2.8" fill="#ff5252"/><rect x="497" y="661.0" width="7" height="2.8" fill="#ff5252"/><rect x="505" y="661.0" width="7" height="2.6" fill="#ffcdd2"/><rect x="513" y="661.0" width="6" height="1.6" fill="#ffcdd2"/><rect x="520" y="660.8" width="7" height="1.2" fill="#26a69a"/><rect x="528" y="660.8" width="7" height="1.2" fill="#26a69a"/><rect x="536" y="660.9" width="6" height="1.1" fill="#b2dfdb"/><rect x="543" y="660.8" width="7" height="1.2" fill="#26a69a"/><rect x="551" y="660.9" width="6" height="1.1" fill="#b2dfdb"/><rect x="558" y="660.8" width="7" height="1.2" fill="#26a69a"/><rect x="566" y="660.0" width="7" height="2.0" fill="#26a69a"/><rect x="574" y="660.0" width="6" height="2.0" fill="#26a69a"/><rect x="581" y="660.0" width="7" height="2.0" fill="#26a69a"/><rect x="589" y="660.0" width="7" height="2.0" fill="#26a69a"/><rect x="597" y="661.0" width="6" height="1.0" fill="#b2dfdb"/><rect x="604" y="659.2" width="7" height="2.8" fill="#26a69a"/><rect x="612" y="658.2" width="6" height="3.8" fill="#26a69a"/><rect x="619" y="658.2" width="7" height="3.8" fill="#26a69a"/><rect x="627" y="658.2" width="7" height="3.8" fill="#26a69a"/><rect x="635" y="657.2" width="6" height="4.8" fill="#26a69a"/><rect x="642" y="657.2" width="7" height="4.8" fill="#26a69a"/><rect x="650" y="659.2" width="7" height="2.8" fill="#b2dfdb"/><rect x="658" y="660.1" width="6" height="1.9" fill="#b2dfdb"/><rect x="665" y="660.9" width="7" height="1.1" fill="#b2dfdb"/><rect x="673" y="661.0" width="6" height="1.6" fill="#ff5252"/><rect x="680" y="661.0" width="7" height="2.6" fill="#ff5252"/><rect x="688" y="661.0" width="7" height="3.6" fill="#ff5252"/><rect x="696" y="661.0" width="6" height="4.6" fill="#ff5252"/><rect x="703" y="661.0" width="7" height="5.8" fill="#ff5252"/><rect x="711" y="661.0" width="7" height="5.8" fill="#ffcdd2"/><rect x="719" y="661.0" width="6" height="3.6" fill="#ffcdd2"/><rect x="726" y="661.0" width="7" height="2.6" fill="#ffcdd2"/><rect x="734" y="661.0" width="6" height="1.0" fill="#ffcdd2"/><rect x="741" y="660.9" width="7" height="1.1" fill="#26a69a"/><rect x="749" y="660.1" width="7" height="1.9" fill="#26a69a"/><rect x="757" y="660.1" width="6" height="1.9" fill="#b2dfdb"/><rect x="764" y="660.1" width="7" height="1.9" fill="#b2dfdb"/><rect x="772" y="661.0" width="7" height="1.0" fill="#b2dfdb"/><rect x="780" y="661.0" width="6" height="1.0" fill="#b2dfdb"/><rect x="787" y="660.8" width="7" height="1.2" fill="#26a69a"/><rect x="795" y="660.1" width="6" height="1.9" fill="#26a69a"/><rect x="802" y="659.2" width="7" height="2.8" fill="#26a69a"/><rect x="810" y="659.2" width="7" height="2.8" fill="#26a69a"/><rect x="818" y="660.1" width="6" height="1.9" fill="#b2dfdb"/><rect x="825" y="661.0" width="7" height="1.0" fill="#b2dfdb"/><rect x="833" y="660.8" width="7" height="1.2" fill="#26a69a"/><rect x="841" y="659.2" width="6" height="2.8" fill="#26a69a"/><rect x="848" y="659.2" width="7" height="2.8" fill="#26a69a"/><rect x="856" y="659.2" width="6" height="2.8" fill="#26a69a"/><rect x="863" y="659.2" width="7" height="2.8" fill="#b2dfdb"/><rect x="871" y="659.2" width="7" height="2.8" fill="#b2dfdb"/><rect x="879" y="660.9" width="6" height="1.1" fill="#b2dfdb"/><rect x="886" y="661.0" width="7" height="2.8" fill="#ff5252"/><rect x="894" y="661.0" width="7" height="4.8" fill="#ff5252"/><rect x="902" y="661.0" width="6" height="5.8" fill="#ff5252"/><rect x="909" y="661.0" width="7" height="5.8" fill="#ff5252"/><rect x="917" y="661.0" width="7" height="5.8" fill="#ffcdd2"/><rect x="925" y="661.0" width="6" height="5.8" fill="#ff5252"/><rect x="932" y="661.0" width="7" height="7.7" fill="#ff5252"/><rect x="940" y="661.0" width="6" height="8.6" fill="#ff5252"/><rect x="947" y="661.0" width="7" height="7.7" fill="#ffcdd2"/><rect x="955" y="661.0" width="7" height="7.7" fill="#ffcdd2"/><rect x="963" y="661.0" width="6" height="7.7" fill="#ff5252"/><rect x="970" y="661.0" width="7" height="10.7" fill="#ff5252"/><rect x="978" y="661.0" width="7" height="11.5" fill="#ff5252"/><rect x="986" y="661.0" width="6" height="9.4" fill="#ffcdd2"/><rect x="993" y="661.0" width="7" height="8.2" fill="#ffcdd2"/><rect x="1001" y="661.0" width="6" height="6.9" fill="#ffcdd2"/><rect x="1008" y="661.0" width="7" height="6.9" fill="#ffcdd2"/><rect x="1016" y="661.0" width="7" height="3.6" fill="#ffcdd2"/><rect x="1024" y="661.0" width="6" height="2.8" fill="#ffcdd2"/><rect x="1031" y="661.0" width="7" height="1.6" fill="#ffcdd2"/><rect x="1039" y="660.1" width="7" height="1.9" fill="#26a69a"/><rect x="1047" y="658.2" width="6" height="3.8" fill="#26a69a"/><rect x="1054" y="657.2" width="7" height="4.8" fill="#26a69a"/><rect x="1062" y="654.7" width="6" height="7.3" fill="#26a69a"/><rect x="1069" y="656.2" width="7" height="5.8" fill="#b2dfdb"/><rect x="1077" y="658.2" width="7" height="3.8" fill="#b2dfdb"/><rect x="1085" y="657.7" width="6" height="4.3" fill="#b2dfdb"/><rect x="1092" y="658.2" width="7" height="3.8" fill="#b2dfdb"/><rect x="1100" y="659.2" width="7" height="2.8" fill="#b2dfdb"/><rect x="1108" y="660.1" width="6" height="1.9" fill="#b2dfdb"/><rect x="1115" y="660.9" width="7" height="1.1" fill="#b2dfdb"/><rect x="1123" y="660.8" width="6" height="1.2" fill="#26a69a"/><rect x="1130" y="661.0" width="7" height="1.0" fill="#b2dfdb"/><rect x="1138" y="661.0" width="7" height="1.6" fill="#ff5252"/><rect x="1146" y="661.0" width="6" height="2.6" fill="#ff5252"/><rect x="1153" y="661.0" width="7" height="2.6" fill="#ff5252"/><rect x="1161" y="660.1" width="7" height="1.9" fill="#26a69a"/><rect x="1169" y="658.2" width="6" height="3.8" fill="#26a69a"/><rect x="1176" y="656.2" width="7" height="5.8" fill="#26a69a"/><rect x="1184" y="656.2" width="6" height="5.8" fill="#26a69a"/><rect x="1191" y="655.2" width="7" height="6.8" fill="#26a69a"/><rect x="1199" y="656.2" width="7" height="5.8" fill="#b2dfdb"/><rect x="1207" y="656.2" width="6" height="5.8" fill="#b2dfdb"/><rect x="1214" y="657.2" width="7" height="4.8" fill="#b2dfdb"/><rect x="1222" y="657.2" width="7" height="4.8" fill="#26a69a"/><rect x="1230" y="657.2" width="6" height="4.8" fill="#b2dfdb"/><rect x="1237" y="657.2" width="7" height="4.8" fill="#b2dfdb"/><rect x="1245" y="659.2" width="6" height="2.8" fill="#b2dfdb"/><rect x="1252" y="661.0" width="7" height="1.6" fill="#ff5252"/><rect x="1260" y="661.0" width="7" height="3.6" fill="#ff5252"/><rect x="1268" y="661.0" width="6" height="3.6" fill="#ffcdd2"/><rect x="1275" y="661.0" width="7" height="2.6" fill="#ffcdd2"/><rect x="1283" y="661.0" width="7" height="2.6" fill="#ffcdd2"/><rect x="1291" y="661.0" width="6" height="1.6" fill="#ffcdd2"/><rect x="1298" y="660.9" width="7" height="1.1" fill="#26a69a"/><rect x="1306" y="660.9" width="6" height="1.1" fill="#26a69a"/><rect x="1313" y="661.0" width="7" height="1.0" fill="#ff5252"/><rect x="1321" y="661.0" width="7" height="1.6" fill="#ff5252"/><rect x="1329" y="661.0" width="6" height="1.6" fill="#ff5252"/><rect x="1336" y="660.9" width="7" height="1.1" fill="#26a69a"/><rect x="1344" y="661.0" width="7" height="3.6" fill="#ff5252"/><rect x="1352" y="661.0" width="6" height="4.8" fill="#ff5252"/><rect x="1359" y="661.0" width="7" height="4.8" fill="#ff5252"/><rect x="1367" y="661.0" width="6" height="5.8" fill="#ff5252"/><rect x="1374" y="661.0" width="7" height="5.8" fill="#ffcdd2"/><rect x="1382" y="661.0" width="7" height="3.6" fill="#ffcdd2"/><rect x="1390" y="661.0" width="6" height="1.6" fill="#ffcdd2"/><rect x="1397" y="660.1" width="7" height="1.9" fill="#26a69a"/><rect x="1405" y="659.2" width="7" height="2.8" fill="#26a69a"/><rect x="1413" y="658.2" width="6" height="3.8" fill="#26a69a"/><rect x="1420" y="658.2" width="7" height="3.8" fill="#b2dfdb"/><rect x="1428" y="659.2" width="7" height="2.8" fill="#b2dfdb"/><rect x="1436" y="660.9" width="6" height="1.1" fill="#b2dfdb"/><rect x="1443" y="661.0" width="7" height="1.0" fill="#b2dfdb"/><rect x="1451" y="660.9" width="6" height="1.1" fill="#26a69a"/><rect x="1458" y="661.0" width="7" height="1.0" fill="#b2dfdb"/><rect x="1466" y="661.0" width="7" height="1.6" fill="#ff5252"/><rect x="1474" y="661.0" width="6" height="1.0" fill="#ff5252"/><rect x="1481" y="661.0" width="7" height="9.8" fill="#ff5252"/><rect x="1489" y="661.0" width="7" height="17.6" fill="#ff5252"/></g>
<line x1="14" y1="661.5" x2="1712" y2="661.5" stroke="#5d606b" stroke-opacity="0.55" stroke-width="1" stroke-dasharray="5 6" shape-rendering="crispEdges"/>
<path d="M13.3,654.3 L28.4,655.1 L43.4,655.1 L50.5,655.1 L66.3,654.5 L73.7,651.5 L81.5,649.5 L89.1,648.7 L96.9,648.7 L104.3,649.5 L111.4,652.3 L119.4,655.6 L127.3,658.1 L134.4,659.8 L142.4,662.2 L150.5,663.1 L157.4,663.6 L165.6,664.1 L172.5,664.7 L180.4,666.4 L188.4,668.9 L195.3,672.2 L203.4,675.1 L211.4,674.6 L218.5,674.3 L226.4,674.1 L233.4,672.7 L241.5,671.3 L249.5,670.2 L256.6,668.0 L264.5,666.0 L272.5,664.4 L279.6,663.1 L287.5,661.1 L294.6,658.1 L302.3,656.7 L309.9,653.1 L317.5,649.8 L325.1,647.3 L332.7,644.1 L340.5,645.6 L348.1,646.4 L355.7,645.5 L363.3,645.3 L370.9,644.8 L378.5,643.3 L386.1,643.6 L393.7,643.6 L401.5,643.5 L409.1,643.1 L416.7,643.3 L424.3,644.1 L431.9,644.0 L439.5,643.6 L447.1,643.3 L454.9,642.6 L462.5,642.8 L470.1,643.0 L477.7,643.6 L485.3,645.3 L492.9,646.0 L500.5,646.8 L508.1,646.9 L515.9,646.4 L523.5,644.8 L531.1,644.6 L538.7,644.8 L546.3,644.8 L553.9,644.8 L561.5,644.8 L569.3,643.3 L576.9,642.6 L584.5,642.3 L592.1,642.0 L599.8,642.5 L607.4,640.7 L615.0,638.5 L622.6,637.2 L630.2,636.2 L637.8,635.0 L645.5,634.2 L653.1,635.2 L660.7,636.2 L668.3,637.2 L676.0,638.5 L683.6,639.8 L691.2,641.5 L698.8,643.5 L706.5,645.1 L714.1,646.1 L721.7,645.6 L729.3,645.1 L736.9,643.1 L744.5,642.0 L752.1,641.0 L759.8,640.7 L767.5,640.7 L775.1,641.0 L782.7,641.5 L790.3,640.7 L797.9,639.8 L805.5,638.5 L813.1,638.0 L820.7,637.9 L828.5,639.0 L836.1,638.7 L843.7,636.9 L851.3,635.7 L858.9,634.9 L866.7,634.5 L874.3,634.4 L881.9,635.7 L889.4,639.0 L897.0,641.8 L904.6,644.0 L912.4,644.8 L920.0,645.3 L927.6,646.9 L935.2,650.1 L942.8,652.6 L950.4,653.9 L958.0,655.2 L965.8,657.5 L973.4,663.8 L981.0,667.1 L988.6,667.9 L996.2,668.4 L1003.8,668.6 L1011.4,668.6 L1019.2,667.4 L1026.8,666.3 L1034.4,665.0 L1042.0,663.0 L1049.6,660.5 L1057.2,658.3 L1064.8,654.7 L1072.6,653.7 L1080.2,653.9 L1087.8,653.7 L1095.4,653.6 L1103.0,654.2 L1110.6,654.9 L1118.2,655.2 L1126.0,655.2 L1133.6,655.7 L1141.2,656.7 L1148.8,658.0 L1156.4,658.0 L1164.0,655.5 L1171.7,651.9 L1179.3,648.9 L1186.9,646.8 L1194.5,645.1 L1202.1,644.1 L1209.7,643.5 L1217.3,642.6 L1225.0,641.2 L1232.6,640.3 L1240.2,639.7 L1247.9,640.7 L1255.5,644.0 L1263.1,646.4 L1270.7,646.9 L1278.3,647.3 L1286.0,646.8 L1293.6,646.1 L1301.2,645.0 L1308.8,644.8 L1316.4,645.6 L1324.0,646.1 L1331.7,646.1 L1339.3,645.6 L1347.0,649.4 L1354.6,651.4 L1362.2,652.7 L1369.8,654.4 L1377.4,654.7 L1385.0,653.9 L1392.6,651.7 L1400.2,648.9 L1408.0,647.3 L1415.6,645.6 L1423.2,645.3 L1430.8,645.8 L1438.4,647.3 L1446.0,647.3 L1453.6,646.4 L1461.2,646.4 L1469.0,648.4 L1476.6,648.3 L1484.3,657.5 L1491.9,670.9" fill="none" stroke="#2962ff" stroke-width="1.4" stroke-linejoin="round" clip-path="url(#macd)"/>
<path d="M13.3,658.1 L28.4,656.8 L43.4,655.9 L58.5,655.3 L66.3,655.3 L73.7,654.5 L81.5,653.1 L89.1,652.0 L96.9,651.1 L104.3,651.0 L111.4,651.0 L119.4,652.0 L127.3,653.5 L134.4,654.8 L142.4,656.4 L150.5,657.8 L157.4,658.9 L165.6,660.1 L172.5,661.1 L180.4,662.2 L188.4,663.9 L195.3,665.5 L203.4,667.7 L211.4,668.9 L218.5,670.0 L226.4,670.8 L233.4,671.3 L241.5,671.3 L249.5,671.0 L256.6,670.5 L264.5,669.3 L272.5,668.4 L279.6,667.2 L287.5,666.0 L294.6,664.4 L302.3,663.3 L309.9,661.0 L317.5,658.3 L325.1,656.0 L332.7,653.9 L340.5,652.2 L348.1,650.9 L355.7,649.8 L363.3,648.9 L370.9,647.9 L378.5,646.9 L386.1,646.1 L393.7,645.6 L401.5,645.1 L409.1,644.8 L416.7,644.5 L424.3,644.3 L431.9,644.1 L439.5,644.0 L447.1,643.8 L454.9,643.6 L462.5,643.5 L470.1,643.5 L477.7,643.6 L485.3,644.1 L492.9,644.6 L500.5,645.1 L508.1,645.6 L515.9,645.8 L523.5,645.3 L531.1,645.1 L538.7,645.0 L546.3,645.0 L553.9,645.0 L561.5,645.0 L569.3,644.5 L576.9,644.1 L584.5,643.8 L592.1,643.5 L599.8,643.3 L607.4,642.6 L615.0,641.7 L622.6,640.8 L630.2,639.8 L637.8,638.7 L645.5,637.9 L653.1,637.2 L660.7,636.9 L668.3,637.0 L676.0,637.2 L683.6,637.9 L691.2,638.5 L698.8,639.5 L706.5,640.8 L714.1,641.8 L721.7,642.6 L729.3,643.1 L736.9,643.1 L744.5,642.6 L752.1,642.1 L759.8,641.8 L767.5,641.7 L775.1,641.5 L782.7,641.5 L790.3,641.2 L797.9,640.8 L805.5,640.3 L813.1,639.8 L820.7,639.5 L828.5,639.3 L836.1,639.2 L843.7,638.7 L851.3,638.0 L858.9,637.4 L866.7,636.7 L874.3,636.2 L881.9,636.2 L889.4,637.0 L897.0,638.2 L904.6,639.3 L912.4,640.5 L920.0,641.5 L927.6,642.6 L935.2,644.3 L942.8,646.1 L950.4,647.8 L958.0,649.3 L965.8,650.9 L973.4,653.6 L981.0,656.4 L988.6,658.7 L996.2,660.7 L1003.8,662.1 L1011.4,663.5 L1019.2,664.3 L1026.8,664.6 L1034.4,664.6 L1042.0,664.1 L1049.6,663.3 L1057.2,662.3 L1064.8,660.8 L1072.6,659.3 L1080.2,658.2 L1087.8,657.2 L1095.4,656.4 L1103.0,655.9 L1110.6,655.5 L1118.2,655.5 L1126.0,655.4 L1133.6,655.5 L1141.2,655.9 L1148.8,656.4 L1156.4,656.7 L1164.0,656.5 L1171.7,655.2 L1179.3,654.2 L1186.9,652.2 L1194.5,650.6 L1202.1,649.3 L1209.7,648.1 L1217.3,646.8 L1225.0,645.6 L1232.6,644.5 L1240.2,643.5 L1247.9,643.1 L1255.5,643.3 L1263.1,644.1 L1270.7,644.8 L1278.3,645.3 L1286.0,645.6 L1293.6,645.6 L1301.2,645.5 L1308.8,645.3 L1316.4,645.5 L1324.0,645.6 L1331.7,645.6 L1339.3,645.6 L1347.0,646.4 L1354.6,647.6 L1362.2,648.8 L1369.8,649.9 L1377.4,650.7 L1385.0,651.4 L1392.6,651.4 L1400.2,650.7 L1408.0,650.1 L1415.6,649.1 L1423.2,648.4 L1430.8,647.8 L1438.4,647.6 L1446.0,647.6 L1453.6,647.4 L1461.2,647.3 L1469.0,647.6 L1476.6,647.7 L1484.3,650.0 L1491.9,653.7" fill="none" stroke="#ff6d00" stroke-width="1.4" stroke-linejoin="round" clip-path="url(#macd)"/>
<g fill="#f2f2f2" shape-rendering="crispEdges"><rect x="12" y="33" width="1791" height="2"/><rect x="12" y="758" width="1791" height="2"/><rect x="12" y="33" width="2" height="727"/><rect x="1801" y="33" width="2" height="727"/></g>
<text x="13.0" y="24.6" font-size="15" fill="#131722" font-family="Liberation Sans, sans-serif" textLength="142.6" lengthAdjust="spacingAndGlyphs" >amiraoluwaseyifunmi</text>
<text x="159.7" y="24.6" font-size="15" fill="#131722" font-family="Liberation Sans, sans-serif" textLength="52.5" lengthAdjust="spacingAndGlyphs" >created</text>
<text x="215.9" y="24.6" font-size="15" fill="#131722" font-family="Liberation Sans, sans-serif" textLength="30.2" lengthAdjust="spacingAndGlyphs" >with</text>
<text x="250.9" y="24.6" font-size="15" fill="#131722" font-family="Liberation Sans, sans-serif" textLength="117.5" lengthAdjust="spacingAndGlyphs" >TradingView.com,</text>
<text x="373.4" y="24.6" font-size="15" fill="#131722" font-family="Liberation Sans, sans-serif" textLength="24.1" lengthAdjust="spacingAndGlyphs" >Oct</text>
<text x="402.5" y="24.6" font-size="15" fill="#131722" font-family="Liberation Sans, sans-serif" textLength="19.7" lengthAdjust="spacingAndGlyphs" >12,</text>
<text x="427.2" y="24.6" font-size="15" fill="#131722" font-family="Liberation Sans, sans-serif" textLength="32.0" lengthAdjust="spacingAndGlyphs" >2025</text>
<text x="463.0" y="24.6" font-size="15" fill="#131722" font-family="Liberation Sans, sans-serif" textLength="37.6" lengthAdjust="spacingAndGlyphs" >08:56</text>
<text x="504.7" y="24.6" font-size="15" fill="#131722" font-family="Liberation Sans, sans-serif" textLength="42.7" lengthAdjust="spacingAndGlyphs" >UTC+1</text>
<text x="95.8" y="49.2" font-size="15.2" fill="#787b86" font-family="Liberation Sans, sans-serif" textLength="88.4" lengthAdjust="spacingAndGlyphs" clip-path="url(#fib0)">0 (25,226.70)</text>
<text x="83.4" y="322.7" font-size="15.2" fill="#4caf50" font-family="Liberation Sans, sans-serif" textLength="101.8" lengthAdjust="spacingAndGlyphs" >0.5 (24,106.79)</text>
<text x="66.6" y="388.6" font-size="15.2" fill="#089981" font-family="Liberation Sans, sans-serif" textLength="117.7" lengthAdjust="spacingAndGlyphs" >0.618 (23,842.49)</text>
<text x="66.6" y="479.9" font-size="15.2" fill="#00bcd4" font-family="Liberation Sans, sans-serif" textLength="117.7" lengthAdjust="spacingAndGlyphs" >0.786 (23,466.20)</text>
<text x="96.2" y="596.8" font-size="15.2" fill="#787b86" font-family="Liberation Sans, sans-serif" textLength="88.4" lengthAdjust="spacingAndGlyphs" >1 (22,986.88)</text>
<rect x="20" y="48.6" width="660" height="11" fill="#fff" opacity="0.85"/>
<rect x="20" y="68" width="176" height="13" fill="#fff" opacity="0.85"/>
<text x="23.5" y="58.7" font-size="15" fill="#131722" font-family="Liberation Sans, sans-serif" textLength="191.6" lengthAdjust="spacingAndGlyphs" >US 100 Cash CFD · 4h · FXCM</text>
<text x="224.5" y="58.7" font-size="15" fill="#131722" font-family="Liberation Sans, sans-serif" textLength="9.4" lengthAdjust="spacingAndGlyphs" >O</text>
<text x="234.8" y="58.7" font-size="15.2" fill="#f23645" font-family="Liberation Sans, sans-serif" textLength="64.5" lengthAdjust="spacingAndGlyphs" >24,516.31</text>
<text x="309.7" y="58.7" font-size="15" fill="#131722" font-family="Liberation Sans, sans-serif" textLength="9.6" lengthAdjust="spacingAndGlyphs" >H</text>
<text x="320.2" y="58.7" font-size="15.2" fill="#f23645" font-family="Liberation Sans, sans-serif" textLength="64.5" lengthAdjust="spacingAndGlyphs" >24,554.56</text>
<text x="395.3" y="58.7" font-size="15" fill="#131722" font-family="Liberation Sans, sans-serif" textLength="7.4" lengthAdjust="spacingAndGlyphs" >L</text>
<text x="403.3" y="58.7" font-size="15.2" fill="#f23645" font-family="Liberation Sans, sans-serif" textLength="64.5" lengthAdjust="spacingAndGlyphs" >24,221.68</text>
<text x="477.4" y="58.7" font-size="15" fill="#131722" font-family="Liberation Sans, sans-serif" textLength="8.8" lengthAdjust="spacingAndGlyphs" >C</text>
<text x="487.0" y="58.7" font-size="15.2" fill="#f23645" font-family="Liberation Sans, sans-serif" textLength="64.5" lengthAdjust="spacingAndGlyphs" >24,256.23</text>
<text x="562.3" y="58.7" font-size="15.2" fill="#f23645" font-family="Liberation Sans, sans-serif" textLength="112.6" lengthAdjust="spacingAndGlyphs" >−260.08 (−1.06%)</text>
<text x="23.5" y="79.6" font-size="15" fill="#131722" font-family="Liberation Sans, sans-serif" textLength="93.3" lengthAdjust="spacingAndGlyphs" >SMA (9, close)</text>
<text x="126.5" y="79.6" font-size="15.2" fill="#2962ff" font-family="Liberation Sans, sans-serif" textLength="65.2" lengthAdjust="spacingAndGlyphs" >24,966.54</text>
<text x="22.9" y="654.8" font-size="15" fill="#131722" font-family="Liberation Sans, sans-serif" textLength="138.5" lengthAdjust="spacingAndGlyphs" >MACD (12, 26, close)</text>
<text x="171.3" y="654.8" font-size="15.2" fill="#ff5252" font-family="Liberation Sans, sans-serif" textLength="43.9" lengthAdjust="spacingAndGlyphs" >−84.12</text>
<text x="225.1" y="654.8" font-size="15.2" fill="#2962ff" font-family="Liberation Sans, sans-serif" textLength="44.4" lengthAdjust="spacingAndGlyphs" >−47.50</text>
<text x="279.4" y="654.8" font-size="15.2" fill="#ff6d00" font-family="Liberation Sans, sans-serif" textLength="36" lengthAdjust="spacingAndGlyphs" >36.62</text>
<text x="1723.4" y="70.8" font-size="15.2" fill="#131722" font-family="Liberation Sans, sans-serif" textLength="65.6" lengthAdjust="spacingAndGlyphs" >25,200.00</text>
<text x="1723.4" y="168.7" font-size="15.2" fill="#131722" font-family="Liberation Sans, sans-serif" textLength="65.6" lengthAdjust="spacingAndGlyphs" >24,800.00</text>
<text x="1723.4" y="217.6" font-size="15.2" fill="#131722" font-family="Liberation Sans, sans-serif" textLength="65.6" lengthAdjust="spacingAndGlyphs" >24,600.00</text>
<text x="1723.4" y="266.5" font-size="15.2" fill="#131722" font-family="Liberation Sans, sans-serif" textLength="65.6" lengthAdjust="spacingAndGlyphs" >24,400.00</text>
<text x="1723.4" y="315.5" font-size="15.2" fill="#131722" font-family="Liberation Sans, sans-serif" textLength="65.6" lengthAdjust="spacingAndGlyphs" >24,200.00</text>
<text x="1723.4" y="413.3" font-size="15.2" fill="#131722" font-family="Liberation Sans, sans-serif" textLength="65.6" lengthAdjust="spacingAndGlyphs" >23,800.00</text>
<text x="1723.4" y="462.2" font-size="15.2" fill="#131722" font-family="Liberation Sans, sans-serif" textLength="65.6" lengthAdjust="spacingAndGlyphs" >23,600.00</text>
<text x="1723.4" y="511.1" font-size="15.2" fill="#131722" font-family="Liberation Sans, sans-serif" textLength="65.6" lengthAdjust="spacingAndGlyphs" >23,400.00</text>
<text x="1723.4" y="560.1" font-size="15.2" fill="#131722" font-family="Liberation Sans, sans-serif" textLength="65.6" lengthAdjust="spacingAndGlyphs" >23,200.00</text>
<text x="1723.3" y="707.2" font-size="15.2" fill="#131722" font-family="Liberation Sans, sans-serif" textLength="52.2" lengthAdjust="spacingAndGlyphs" >−200.00</text>
<path d="M1713,92 h81 a2,2 0 0 1 2,2 v17 a2,2 0 0 1 -2,2 h-81 z" fill="#2962ff"/>
<text x="1724.0" y="107.4" font-size="15.2" fill="#fff" font-family="Liberation Sans, sans-serif" textLength="66.1" lengthAdjust="spacingAndGlyphs" >25,000.00</text>
<path d="M1713,113 h81 a2,2 0 0 1 2,2 v17 a2,2 0 0 1 -2,2 h-81 z" fill="#2962ff"/>
<text x="1724.0" y="128.4" font-size="15.2" fill="#fff" font-family="Liberation Sans, sans-serif" textLength="66.1" lengthAdjust="spacingAndGlyphs" >24,966.54</text>
<path d="M1713,287 h81 a2,2 0 0 1 2,2 v17 a2,2 0 0 1 -2,2 h-81 z" fill="#f23645"/>
<text x="1724.0" y="302.4" font-size="15.2" fill="#fff" font-family="Liberation Sans, sans-serif" textLength="66.1" lengthAdjust="spacingAndGlyphs" >24,256.23</text>
<path d="M1713,337 h81 a2,2 0 0 1 2,2 v17 a2,2 0 0 1 -2,2 h-81 z" fill="#2962ff"/>
<text x="1724.0" y="352.4" font-size="15.2" fill="#fff" font-family="Liberation Sans, sans-serif" textLength="66.1" lengthAdjust="spacingAndGlyphs" >24,052.28</text>
<path d="M1713,358 h81 a2,2 0 0 1 2,2 v17 a2,2 0 0 1 -2,2 h-81 z" fill="#000"/>
<text x="1724.0" y="373.4" font-size="15.2" fill="#fff" font-family="Liberation Sans, sans-serif" textLength="66.1" lengthAdjust="spacingAndGlyphs" >23,984.90</text>
<path d="M1713,453 h81 a2,2 0 0 1 2,2 v17 a2,2 0 0 1 -2,2 h-81 z" fill="#000"/>
<text x="1724.0" y="468.5" font-size="15.2" fill="#fff" font-family="Liberation Sans, sans-serif" textLength="66.1" lengthAdjust="spacingAndGlyphs" >23,578.50</text>
<path d="M1713,594 h81 a2,2 0 0 1 2,2 v17 a2,2 0 0 1 -2,2 h-81 z" fill="#2962ff"/>
<text x="1724.0" y="609.4" font-size="15.2" fill="#fff" font-family="Liberation Sans, sans-serif" textLength="66.1" lengthAdjust="spacingAndGlyphs" >23,000.00</text>
<path d="M1713,629 h52 a2,2 0 0 1 2,2 v14 a2,2 0 0 1 -2,2 h-52 z" fill="#ff6d00"/>
<text x="1724.4" y="642.6" font-size="15.2" fill="#fff" font-family="Liberation Sans, sans-serif" textLength="36" lengthAdjust="spacingAndGlyphs" >36.62</text>
<path d="M1713,647 h59 a2,2 0 0 1 2,2 v17 a2,2 0 0 1 -2,2 h-59 z" fill="#2962ff"/>
<text x="1724.4" y="663.1" font-size="15.2" fill="#fff" font-family="Liberation Sans, sans-serif" textLength="44.6" lengthAdjust="spacingAndGlyphs" >−47.50</text>
<path d="M1713,668 h59 a2,2 0 0 1 2,2 v17 a2,2 0 0 1 -2,2 h-59 z" fill="#ff5252"/>
<text x="1724.4" y="684.1999999999999" font-size="15.2" fill="#fff" font-family="Liberation Sans, sans-serif" textLength="44.6" lengthAdjust="spacingAndGlyphs" >−84.12</text>
<text x="50.5" y="746.5" font-size="15.2" fill="#131722" font-family="Liberation Sans, sans-serif" text-anchor="middle" textLength="15.6" lengthAdjust="spacingAndGlyphs" >28</text>
<text x="142.5" y="746.5" font-size="15" fill="#131722" font-family="Liberation Sans, sans-serif" text-anchor="middle" textLength="25.3" lengthAdjust="spacingAndGlyphs" font-weight="bold" >Sep</text>
<text x="226.5" y="746.5" font-size="15.2" fill="#131722" font-family="Liberation Sans, sans-serif" text-anchor="middle" textLength="7.8" lengthAdjust="spacingAndGlyphs" >3</text>
<text x="317.5" y="746.5" font-size="15.2" fill="#131722" font-family="Liberation Sans, sans-serif" text-anchor="middle" textLength="7.8" lengthAdjust="spacingAndGlyphs" >5</text>
<text x="409.5" y="746.5" font-size="15.2" fill="#131722" font-family="Liberation Sans, sans-serif" text-anchor="middle" textLength="7.8" lengthAdjust="spacingAndGlyphs" >9</text>
<text x="500.5" y="746.5" font-size="15.2" fill="#131722" font-family="Liberation Sans, sans-serif" text-anchor="middle" textLength="15.6" lengthAdjust="spacingAndGlyphs" >11</text>
<text x="584.5" y="746.5" font-size="15.2" fill="#131722" font-family="Liberation Sans, sans-serif" text-anchor="middle" textLength="15.6" lengthAdjust="spacingAndGlyphs" >14</text>
<text x="683.5" y="746.5" font-size="15.2" fill="#131722" font-family="Liberation Sans, sans-serif" text-anchor="middle" textLength="15.6" lengthAdjust="spacingAndGlyphs" >17</text>
<text x="775.5" y="746.5" font-size="15.2" fill="#131722" font-family="Liberation Sans, sans-serif" text-anchor="middle" textLength="15.6" lengthAdjust="spacingAndGlyphs" >19</text>
<text x="866.5" y="746.5" font-size="15.2" fill="#131722" font-family="Liberation Sans, sans-serif" text-anchor="middle" textLength="15.6" lengthAdjust="spacingAndGlyphs" >23</text>
<text x="958.5" y="746.5" font-size="15.2" fill="#131722" font-family="Liberation Sans, sans-serif" text-anchor="middle" textLength="15.6" lengthAdjust="spacingAndGlyphs" >25</text>
<text x="1042.5" y="746.5" font-size="15.2" fill="#131722" font-family="Liberation Sans, sans-serif" text-anchor="middle" textLength="15.6" lengthAdjust="spacingAndGlyphs" >28</text>
<text x="1141.5" y="746.5" font-size="15" fill="#131722" font-family="Liberation Sans, sans-serif" text-anchor="middle" textLength="24.8" lengthAdjust="spacingAndGlyphs" font-weight="bold" >Oct</text>
<text x="1233.5" y="746.5" font-size="15.2" fill="#131722" font-family="Liberation Sans, sans-serif" text-anchor="middle" textLength="7.8" lengthAdjust="spacingAndGlyphs" >3</text>
<text x="1324.5" y="746.5" font-size="15.2" fill="#131722" font-family="Liberation Sans, sans-serif" text-anchor="middle" textLength="7.8" lengthAdjust="spacingAndGlyphs" >7</text>
<text x="1416.5" y="746.5" font-size="15.2" fill="#131722" font-family="Liberation Sans, sans-serif" text-anchor="middle" textLength="7.8" lengthAdjust="spacingAndGlyphs" >9</text>
<text x="1500.5" y="746.5" font-size="15.2" fill="#131722" font-family="Liberation Sans, sans-serif" text-anchor="middle" textLength="15.6" lengthAdjust="spacingAndGlyphs" >12</text>
<text x="1599.5" y="746.5" font-size="15.2" fill="#131722" font-family="Liberation Sans, sans-serif" text-anchor="middle" textLength="15.6" lengthAdjust="spacingAndGlyphs" >15</text>
<text x="1690.5" y="746.5" font-size="15.2" fill="#131722" font-family="Liberation Sans, sans-serif" text-anchor="middle" textLength="15.6" lengthAdjust="spacingAndGlyphs" >17</text>
<g fill="#16181d"><path d="M15.2,786.5 H30.7 V805 H23.1 V793.9 H15.2 Z"/><circle cx="36.4" cy="789.8" r="3"/><path d="M43,786.5 H52.9 L45.6,805 H37 Z"/></g>
<text x="62.1" y="805" font-size="25.4" fill="#16181d" font-family="Liberation Sans, sans-serif" textLength="150.8" lengthAdjust="spacingAndGlyphs" font-weight="bold" >TradingView</text>
</svg>
</body></html>
